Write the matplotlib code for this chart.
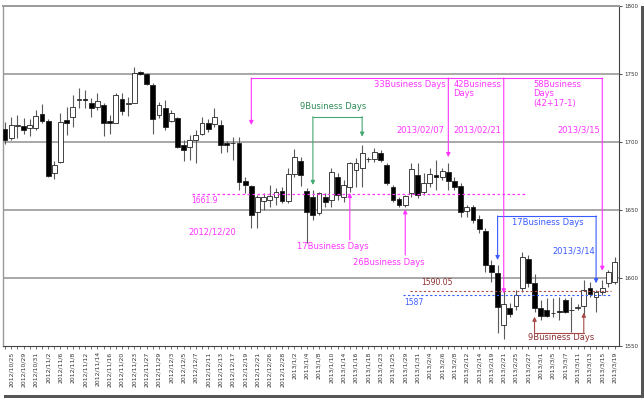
import matplotlib
matplotlib.use('Agg')
import matplotlib.pyplot as plt
from matplotlib.patches import Rectangle

# ---------------- data (one candle per trading day, 2012/10/24 .. 2013/3/19) -------------
opens = [1709.0, 1702.5, 1711.8, 1711.5, 1709.8, 1709.8, 1720.1, 1715.2, 1676.7, 1685.3,
         1716.0, 1717.9, 1731.0, 1731.3, 1728.7, 1725.3, 1727.0, 1715.2, 1714.0, 1731.4,
         1727.9, 1728.7, 1751.5, 1749.8, 1741.7, 1719.6, 1724.5, 1715.5, 1717.2, 1697.6,
         1695.9, 1701.2, 1705.7, 1713.5, 1712.8, 1712.3, 1699.4, 1699.0, 1698.8, 1671.3,
         1667.4, 1648.5, 1656.6, 1657.1, 1659.1, 1664.0, 1656.5, 1676.0, 1686.0, 1664.0,
         1659.6, 1647.4, 1659.6, 1657.2, 1673.8, 1659.6, 1667.0, 1679.2, 1680.5, 1687.1,
         1687.1, 1691.5, 1682.9, 1667.0, 1657.7, 1653.5, 1662.0, 1675.5, 1663.3, 1669.4,
         1675.5, 1673.8, 1677.5, 1671.4, 1667.4, 1649.3, 1652.2, 1642.9, 1634.6, 1609.3,
         1603.7, 1565.2, 1577.5, 1579.0, 1592.1, 1613.5, 1595.8, 1577.9, 1576.5, 1574.3,
         1575.3, 1583.6, 1576.0, 1577.5, 1579.2, 1592.1, 1586.0, 1589.7, 1595.8, 1597.0]
highs = [1714.7, 1718.4, 1719.6, 1717.2, 1717.0, 1723.3, 1727.7, 1716.4, 1685.8, 1720.9,
         1725.8, 1734.3, 1739.3, 1738.0, 1731.9, 1735.6, 1728.7, 1719.6, 1735.6, 1736.1,
         1733.1, 1754.7, 1752.0, 1750.3, 1742.9, 1729.4, 1730.7, 1723.3, 1718.4, 1701.2,
         1704.9, 1708.6, 1717.9, 1717.0, 1724.5, 1716.0, 1700.5, 1703.7, 1703.7, 1674.3,
         1668.2, 1660.8, 1662.0, 1668.2, 1665.7, 1666.9, 1680.4, 1694.5, 1689.0, 1665.8,
         1664.5, 1663.3, 1662.0, 1680.5, 1676.8, 1671.9, 1685.4, 1687.8, 1697.6, 1689.0,
         1695.2, 1694.0, 1684.1, 1668.2, 1659.6, 1660.9, 1684.1, 1684.1, 1676.8, 1680.4,
         1686.5, 1680.4, 1684.1, 1674.3, 1669.4, 1653.5, 1653.5, 1646.1, 1636.3, 1613.0,
         1609.3, 1591.4, 1581.2, 1591.0, 1619.1, 1616.7, 1602.7, 1583.6, 1584.8, 1584.8,
         1586.0, 1584.8, 1586.0, 1581.0, 1598.3, 1597.0, 1590.9, 1598.3, 1605.6, 1615.4]
lows = [1698.3, 1701.3, 1702.7, 1706.0, 1704.0, 1708.6, 1713.5, 1673.8, 1672.3, 1684.1,
        1705.0, 1711.1, 1724.6, 1724.6, 1718.4, 1723.3, 1704.2, 1705.7, 1713.5, 1719.6,
        1718.9, 1728.2, 1749.0, 1741.7, 1705.7, 1717.2, 1708.6, 1714.7, 1695.1, 1686.1,
        1686.5, 1684.1, 1705.2, 1707.0, 1711.0, 1691.4, 1692.7, 1686.6, 1664.5, 1662.5,
        1636.3, 1636.3, 1649.8, 1652.2, 1653.4, 1655.1, 1655.1, 1674.3, 1667.4, 1625.5,
        1642.5, 1646.1, 1652.3, 1652.3, 1657.2, 1656.0, 1663.3, 1667.0, 1667.0, 1685.4,
        1685.4, 1685.4, 1668.2, 1656.0, 1651.8, 1652.3, 1659.6, 1658.4, 1660.8, 1666.9,
        1664.5, 1671.9, 1664.5, 1664.5, 1644.9, 1644.9, 1640.0, 1632.6, 1604.4, 1597.0,
        1559.1, 1554.7, 1571.0, 1576.5, 1589.7, 1593.4, 1575.0, 1568.9, 1571.0, 1571.3,
        1568.9, 1574.3, 1560.4, 1576.0, 1572.6, 1586.0, 1575.0, 1587.3, 1593.0, 1595.0]
closes = [1701.3, 1712.3, 1712.5, 1708.6, 1712.3, 1718.9, 1715.2, 1675.0, 1682.9, 1714.7,
          1713.5, 1725.8, 1731.5, 1731.0, 1724.5, 1730.2, 1713.5, 1714.0, 1734.3, 1722.8,
          1728.4, 1750.8, 1749.8, 1742.2, 1716.4, 1727.0, 1711.1, 1720.9, 1695.9, 1693.9,
          1701.2, 1704.9, 1714.0, 1709.5, 1718.0, 1697.3, 1697.4, 1699.3, 1670.6, 1668.2,
          1646.1, 1659.1, 1659.1, 1660.1, 1663.3, 1656.5, 1676.0, 1689.0, 1675.5, 1648.6,
          1646.1, 1662.1, 1656.0, 1678.0, 1660.9, 1668.2, 1684.1, 1684.1, 1691.5, 1687.0,
          1692.7, 1686.6, 1669.9, 1657.2, 1653.5, 1660.1, 1680.0, 1660.8, 1669.4, 1676.0,
          1673.8, 1678.7, 1671.4, 1666.9, 1648.6, 1652.2, 1642.4, 1635.6, 1609.3, 1604.4,
          1578.2, 1581.0, 1573.3, 1587.3, 1614.9, 1595.8, 1577.5, 1571.8, 1572.0, 1574.1,
          1575.0, 1575.0, 1576.5, 1578.7, 1590.9, 1588.0, 1589.7, 1592.6, 1604.4, 1611.8]
# labels shown under every second candle (candle 1, 3, 5, ...)
tick_labels = ['2012/10/25', '2012/10/29', '2012/10/31', '2012/11/2', '2012/11/6',
               '2012/11/8', '2012/11/12', '2012/11/14', '2012/11/16', '2012/11/20',
               '2012/11/23', '2012/11/27', '2012/11/29', '2012/12/3', '2012/12/5',
               '2012/12/7', '2012/12/11', '2012/12/13', '2012/12/17', '2012/12/19',
               '2012/12/21', '2012/12/26', '2012/12/28', '2013/1/2', '2013/1/4',
               '2013/1/8', '2013/1/10', '2013/1/14', '2013/1/16', '2013/1/18',
               '2013/1/23', '2013/1/25', '2013/1/29', '2013/1/31', '2013/2/4',
               '2013/2/6', '2013/2/8', '2013/2/12', '2013/2/14', '2013/2/19',
               '2013/2/21', '2013/2/25', '2013/2/27', '2013/3/1', '2013/3/5',
               '2013/3/7', '2013/3/11', '2013/3/13', '2013/3/15', '2013/3/19']
y_ticks = [1550, 1600, 1650, 1700, 1750, 1800]
level_1661 = 1661.9
level_1590 = 1590.05
level_1587 = 1587

MAG = '#ff33ff'
GRN_L = '#45a872'
GRN_T = '#2e8b57'
BLU = '#3a5cff'
BRN_L = '#a84848'
BRN_T = '#8b3030'

fig = plt.figure(figsize=(6.44, 4.0), dpi=100)
ax = fig.add_axes([3/644, 1-345.7/400, 616/644, 340/400])

n = len(opens)
xs = list(range(n))
ax.set_xlim(-0.33, 99.72)
ax.set_ylim(1550, 1800)

# grid
for g in [1600, 1650, 1700, 1750]:
    ax.axhline(g, color='#9a9a9a', lw=1.2, zorder=1)

# candles
for i in xs:
    o, h, l, c = opens[i], highs[i], lows[i], closes[i]
    ax.vlines(i, l, h, color='#5a5a5a', lw=0.8, zorder=2)
    lo, hi = min(o, c), max(o, c)
    face = 'black' if c < o else 'white'
    ax.add_patch(Rectangle((i - 0.39, lo), 0.78, max(hi - lo, 0.05),
                           facecolor=face, edgecolor='#222222', lw=0.6, zorder=3))

def arrow(x0, y0, x1, y1, color, lw=0.8):
    ax.annotate('', xy=(x1, y1), xytext=(x0, y0),
                arrowprops=dict(arrowstyle='-|>', color=color, lw=lw,
                                mutation_scale=6, shrinkA=0, shrinkB=0), zorder=5)

# horizontal dashed levels
ax.plot([30.4, 84.6], [level_1661, level_1661], color=MAG, lw=0.9, ls=(0, (2, 2)), zorder=4)
ax.plot([65.8, 98.4], [level_1590, level_1590], color=BRN_L, lw=0.8, ls=(0, (2, 2)), zorder=4)
ax.plot([64.7, 98.4], [level_1587, level_1587], color=BLU, lw=0.8, ls=(0, (2, 2)), zorder=4)

# magenta bracket (from 2012/12/20)
ax.plot([40, 97], [1746.8, 1746.8], color=MAG, lw=0.8, zorder=4)
arrow(40, 1746.8, 40, 1712.3, MAG)
arrow(72, 1746.8, 72, 1688.7, MAG)
arrow(81, 1746.8, 81, 1588.5, MAG)
arrow(97, 1746.8, 97, 1605.1, MAG)

# magenta up arrows
arrow(56, 1627.7, 56, 1662.3, MAG)
arrow(65, 1616.7, 65, 1650.3, MAG)

# green bracket
ax.plot([50, 58], [1718.4, 1718.4], color=GRN_L, lw=0.8, zorder=4)
arrow(50, 1718.4, 50, 1668.2, GRN_L)
arrow(58, 1718.4, 58, 1703.7, GRN_L)

# blue bracket
ax.plot([80, 96], [1645.4, 1645.4], color=BLU, lw=0.8, zorder=4)
arrow(80, 1645.4, 80, 1613.0, BLU)
arrow(96, 1645.4, 96, 1595.9, BLU)

# brown bracket
ax.plot([86, 94], [1559.7, 1559.7], color=BRN_L, lw=0.8, zorder=4)
arrow(86, 1559.7, 86, 1571.3, BRN_L)
arrow(94, 1559.7, 94, 1574.3, BRN_L)

# texts
fs = 6
ax.text(34.5, 1657.1, '1661.9', color=MAG, fontsize=5.5, ha='right', va='center')
ax.text(37.5, 1633.6, '2012/12/20', color=MAG, fontsize=fs, ha='right', va='center')
ax.text(53.3, 1622.8, '17Business Days', color=MAG, fontsize=fs, ha='center', va='center')
ax.text(62.3, 1611.0, '26Business Days', color=MAG, fontsize=fs, ha='center', va='center')
ax.text(53.3, 1725.7, '9Business Days', color=GRN_T, fontsize=fs, ha='center', va='center')
ax.text(71.5, 1741.7, '33Business Days', color=MAG, fontsize=fs, ha='right', va='center')
ax.text(72.8, 1745.5, '42Business\nDays', color=MAG, fontsize=fs, ha='left', va='top',
        linespacing=1.05)
ax.text(85.8, 1745.5, '58Business\nDays\n(42+17-1)', color=MAG, fontsize=fs, ha='left',
        va='top', linespacing=1.05)
ax.text(71.3, 1708.6, '2013/02/07', color=MAG, fontsize=fs, ha='right', va='center')
ax.text(72.8, 1708.6, '2013/02/21', color=MAG, fontsize=fs, ha='left', va='center')
ax.text(96.6, 1708.6, '2013/3/15', color=MAG, fontsize=fs, ha='right', va='center')
ax.text(88.2, 1640.4, '17Business Days', color=BLU, fontsize=fs, ha='center', va='center')
ax.text(95.8, 1619.6, '2013/3/14', color=BLU, fontsize=fs, ha='right', va='center')
ax.text(70.2, 1596.3, '1590.05', color=BRN_T, fontsize=5.5, ha='center', va='center')
ax.text(66.4, 1581.9, '1587', color=BLU, fontsize=5.5, ha='center', va='center')
ax.text(90.3, 1555.9, '9Business Days', color=BRN_T, fontsize=fs, ha='center', va='center')

# axes styling
ax.yaxis.tick_right()
ax.set_yticks(y_ticks)
ax.set_yticklabels([str(v) for v in y_ticks], fontsize=4)
ax.tick_params(axis='y', length=2, width=0.6, pad=1.5, colors='#333333')
ax.set_xticks(xs)
labels_all = [''] * n
for k, lab in enumerate(tick_labels):
    labels_all[2 * k + 1] = lab
ax.set_xticklabels(labels_all, rotation=90, fontsize=4.4)
ax.tick_params(axis='x', length=2, width=0.5, pad=2, colors='#333333')
ax.spines['top'].set_color('#9a9a9a')
ax.spines['top'].set_linewidth(1.4)
ax.spines['left'].set_color('#9a9a9a')
ax.spines['left'].set_linewidth(1.0)
ax.spines['right'].set_color('#444444')
ax.spines['right'].set_linewidth(0.8)
ax.spines['bottom'].set_color('#444444')
ax.spines['bottom'].set_linewidth(0.8)

# picture frame shadow
fig.patches.append(Rectangle((641/644, 0.01), 3/644, 0.985 - 0.01, transform=fig.transFigure,
                             facecolor='#555555', edgecolor='none'))
fig.patches.append(Rectangle((0.006, 2/400), 641/644 - 0.006 + 3/644, 3/400,
                             transform=fig.transFigure, facecolor='#555555', edgecolor='none'))

fig.savefig('out.png', dpi=100, facecolor='white')
